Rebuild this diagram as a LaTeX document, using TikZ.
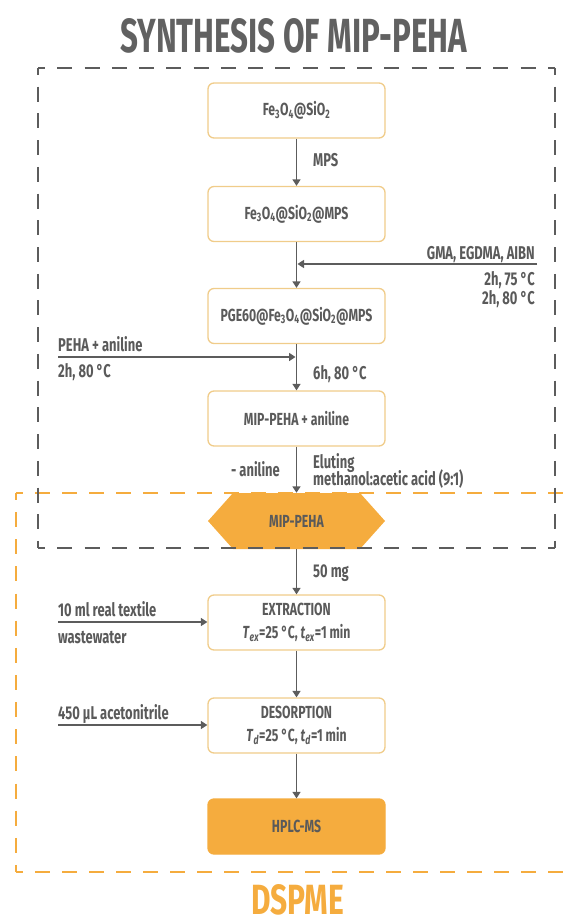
\documentclass[tikz,border=0pt]{standalone}
\usepackage{fontspec}
\usepackage{graphicx}
\setmainfont{Fira Sans}[FakeStretch=0.7]
\usetikzlibrary{arrows.meta}
\definecolor{txt}{HTML}{5A5A5A}
\definecolor{ttl}{HTML}{616161}
\definecolor{orng}{HTML}{F5AC3E}
\definecolor{bord}{HTML}{F0CC8A}
\definecolor{dgrey}{HTML}{5C5C5C}
\begin{document}
\begin{tikzpicture}[x=1pt,y=-1pt,
  every node/.style={text=txt, font=\fontsize{18.5}{23}\selectfont\bfseries},
  box/.style={draw=bord, line width=1.3pt, rounded corners=6pt, fill=white,
    minimum width=177pt, minimum height=55pt, inner sep=0pt, align=center,
    font=\fontsize{17.5}{23}\selectfont\bfseries},
  fbox/.style={box, draw=orng, fill=orng},
  lbl/.style={inner sep=0pt},
  arr/.style={draw=dgrey, line width=1.8pt, -{Triangle[length=6.5pt,width=8pt]}},
  gdash/.style={draw=dgrey, line width=2.2pt, line cap=butt},
  odash/.style={draw=orng, line width=2.2pt, line cap=butt}]
\useasboundingbox (0,0) rectangle (572,920);

% title
\node[anchor=north west, inner sep=0pt, text=ttl] (title) at (120,18)
  {\resizebox{347pt}{34pt}{\bfseries SYNTHESIS OF MIP-PEHA}};

% hexagon fill
\fill[orng] (208,521) -- (233,493) -- (360,493) -- (385,521) -- (360,549) -- (233,549) -- cycle;

% orange dashed frame (DSPME)
\draw[odash, dash pattern=on 15pt off 12pt, dash phase=8pt] (16,493) -- (590,493);
\draw[odash, dash pattern=on 15pt off 12pt, dash phase=8pt] (16,872) -- (590,872);
\draw[odash, dash pattern=on 15pt off 12.14pt, dash phase=8pt] (16,493) -- (16,872);

% grey dashed frame (synthesis)
\draw[gdash, dash pattern=on 15pt off 12.263pt, dash phase=8pt] (38,68) -- (555,68);
\draw[gdash, dash pattern=on 15pt off 12.263pt, dash phase=8pt] (38,548) -- (555,548);
\draw[gdash, dash pattern=on 15pt off 11.72pt, dash phase=8pt] (38,68) -- (38,548);
\draw[gdash, dash pattern=on 15pt off 11.72pt, dash phase=8pt] (555,68) -- (555,548);

% boxes
\node[box] (b1) at (296.5,110.5) {Fe\textsubscript{3}O\textsubscript{4}@SiO\textsubscript{2}};
\node[box] (b2) at (296.5,214) {Fe\textsubscript{3}O\textsubscript{4}@SiO\textsubscript{2}@MPS};
\node[box] (b3) at (296.5,316) {PGE60@Fe\textsubscript{3}O\textsubscript{4}@SiO\textsubscript{2}@MPS};
\node[box] (b4) at (296.5,418.5) {MIP-PEHA + aniline};
\node[lbl, minimum width=177pt, minimum height=56pt, font=\fontsize{17.5}{23}\selectfont\bfseries] (hex) at (296.5,521) {MIP-PEHA};
\node[box] (ext) at (296.5,622.5) {EXTRACTION\\\textit{T}\textsubscript{\textit{ex}}=25 °C, \textit{t}\textsubscript{\textit{ex}}=1 min};
\node[box] (des) at (296.5,725.5) {DESORPTION\\\textit{T}\textsubscript{\textit{d}}=25 °C, \textit{t}\textsubscript{\textit{d}}=1 min};
\node[fbox] (hplc) at (296.5,826.5) {HPLC-MS};

% main flow
\draw[arr] (b1) -- (b2);
\draw[arr] (b2) -- (b3);
\draw[arr] (b3) -- (b4);
\draw[arr] (b4) -- (hex);
\draw[arr] (hex) -- (ext);
\draw[arr] (ext) -- (des);
\draw[arr] (des) -- (hplc);

% side inputs
\coordinate (g0) at (537,264);
\coordinate (g1) at (297.5,264);
\draw[arr] (g0) -- (g1);
\coordinate (p0) at (58,357);
\coordinate (p1) at (295.5,357);
\draw[arr] (p0) -- (p1);
\coordinate (w0) at (58,622);
\draw[arr] (w0) -- (w0 -| ext.west);
\coordinate (a0) at (58,725);
\draw[arr] (a0) -- (a0 -| des.west);

% labels
\node[lbl, anchor=base west] (lmps) at (313,167) {MPS};
\node[lbl, anchor=base east] (lgma) at (535,259) {GMA, EGDMA, AIBN};
\node[lbl, anchor=base east] (lc1) at (535,285) {2h, 75 °C};
\node[lbl, anchor=base east] (lc2) at (535,304) {2h, 80 °C};
\node[lbl, anchor=base west] (lpeha) at (58,351) {PEHA + aniline};
\node[lbl, anchor=base west] (lc3) at (58,377) {2h, 80 °C};
\node[lbl, anchor=base west] (lc4) at (313,379) {6h, 80 °C};
\node[lbl, anchor=base east] (lan) at (280,476) {- aniline};
\node[lbl, anchor=base west] (lel) at (313,468) {Eluting};
\node[lbl, anchor=base west] (lme) at (313,485) {methanol:acetic acid (9:1)};
\node[lbl, anchor=base west] (l50) at (313,577) {50 mg};
\node[lbl, anchor=base west] (lw1) at (58,616) {10 ml real textile};
\node[lbl, anchor=base west] (lw2) at (58,643) {wastewater};
\node[lbl, anchor=base west] (lac) at (58,719) {450 µL acetonitrile};

% bottom title
\node[anchor=north west, inner sep=0pt, text=orng] (dspme) at (251,884)
  {\resizebox{93pt}{30pt}{\bfseries DSPME}};
\end{tikzpicture}
\end{document}
